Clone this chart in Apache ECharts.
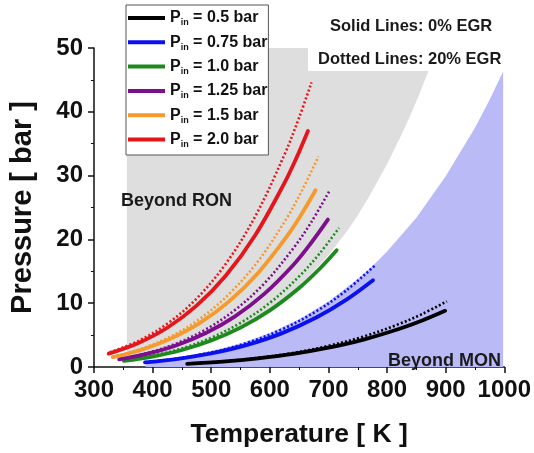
<!DOCTYPE html>
<html>
<head>
<meta charset="utf-8">
<script src="https://cdn.jsdelivr.net/npm/echarts@6/dist/echarts.min.js"></script>
<style>
  html, body { margin: 0; padding: 0; background: #fff; }
  #chart { width: 534px; height: 453px; }
</style>
</head>
<body>
<div id="chart"></div>
<script>
// legend labels (inlet pressure, bar) and colours
const pinLabels = ['0.5', '0.75', '1.0', '1.25', '1.5', '2.0'];
const lineColors = ['#000000', '#0a10ee', '#1e8a1e', '#7d0f8c', '#f59a2c', '#e4161c'];

// solid lines: 0% EGR  (T in K, P in bar)
const tSolid05 = [459, 520, 580, 640, 700, 760, 820, 860, 899];
const pSolid05 = [0.5, 0.85, 1.36, 2.06, 3.03, 4.30, 5.95, 7.28, 8.8];
const tSolid075 = [387, 440, 500, 560, 620, 680, 730, 776];
const pSolid075 = [0.72, 1.24, 2.12, 3.43, 5.27, 7.79, 10.51, 13.6];
const tSolid10 = [351, 400, 450, 500, 550, 600, 650, 685, 714];
const pSolid10 = [0.95, 1.64, 2.67, 4.15, 6.17, 8.87, 12.38, 15.4, 18.3];
const tSolid125 = [343, 390, 440, 490, 540, 590, 640, 670, 699];
const pSolid125 = [1.2, 2.05, 3.38, 5.28, 7.90, 11.42, 16.0, 19.4, 23.1];
const tSolid15 = [332, 380, 430, 480, 530, 580, 630, 655, 678];
const pSolid15 = [1.55, 2.67, 4.41, 6.87, 10.25, 14.75, 20.6, 24.1, 27.7];
const tSolid20 = [325, 375, 425, 475, 525, 575, 625, 645, 665];
const pSolid20 = [2.1, 3.73, 6.15, 9.61, 14.35, 20.66, 28.85, 32.7, 37.0];

// dotted lines: 20% EGR
const tDot05 = [459, 520, 580, 640, 700, 760, 820, 860, 902];
const pDot05 = [0.5, 0.87, 1.43, 2.21, 3.31, 4.78, 6.72, 8.31, 10.3];
const tDot075 = [387, 440, 500, 560, 620, 680, 730, 779];
const pDot075 = [0.75, 1.31, 2.29, 3.76, 5.87, 8.78, 11.97, 15.9];
const tDot10 = [351, 400, 450, 500, 550, 600, 650, 685, 718];
const pDot10 = [1.0, 1.76, 2.92, 4.59, 6.92, 10.06, 14.2, 17.8, 21.8];
const tDot125 = [343, 390, 440, 490, 540, 590, 640, 670, 701];
const pDot125 = [1.25, 2.18, 3.67, 5.85, 8.90, 13.05, 18.6, 22.6, 27.5];
const tDot15 = [332, 380, 430, 480, 530, 580, 630, 655, 683];
const pDot15 = [1.6, 2.82, 4.74, 7.51, 11.39, 16.6, 23.5, 27.7, 33.0];
const tDot20 = [327, 375, 425, 475, 525, 575, 625, 650, 671];
const pDot20 = [2.3, 4.05, 6.78, 10.72, 16.2, 23.6, 33.3, 39.1, 44.6];

// shaded regions (outline vertices)
const tRon = [356, 356, 885, 871, 856, 840, 823, 800, 770, 750, 734, 700, 650, 600, 550, 500, 450, 400, 370];
const pRon = [0.84, 50, 50, 46.5, 43.0, 39.5, 36.1, 31.8, 26.8, 23.8, 21.6, 17.5, 12.5, 8.75, 5.93, 3.87, 2.41, 1.43, 1.0];
const tMon = [388, 388, 420, 450, 500, 550, 600, 650, 700, 750, 777, 800, 850, 900, 950, 975, 998, 998];
const pMon = [0, 0.84, 1.17, 1.57, 2.46, 3.69, 5.34, 7.50, 10.27, 13.8, 16.0, 18.1, 23.4, 29.9, 37.5, 41.9, 46.3, 0];

const FONT = 'Liberation Sans, Arial, sans-serif';

const solidT = [tSolid05, tSolid075, tSolid10, tSolid125, tSolid15, tSolid20];
const solidP = [pSolid05, pSolid075, pSolid10, pSolid125, pSolid15, pSolid20];
const dotT = [tDot05, tDot075, tDot10, tDot125, tDot15, tDot20];
const dotP = [pDot05, pDot075, pDot10, pDot125, pDot15, pDot20];

function zip(ts, ps) {
  return ts.map((t, i) => [t, ps[i]]);
}

function region(name, ts, ps, fill) {
  return {
    type: 'custom',
    name: name,
    silent: true,
    z: 1,
    data: [[ts[0], ps[0]]],
    renderItem: function (params, api) {
      const pts = ts.map((t, i) => api.coord([t, ps[i]]));
      return {
        type: 'polygon',
        shape: { points: pts },
        style: { fill: fill, stroke: null }
      };
    }
  };
}

const series = [
  region('ron', tRon, pRon, '#dedede'),
  region('mon', tMon, pMon, '#babaf6')
];

// dotted first so the solid lines sit on top
for (let i = 0; i < 6; i++) {
  series.push({
    type: 'line',
    name: 'dot' + i,
    data: zip(dotT[i], dotP[i]),
    smooth: 0.35,
    showSymbol: false,
    silent: true,
    z: 3,
    color: lineColors[i],
    lineStyle: { color: lineColors[i], width: 2.6, type: [2, 2.2], cap: 'butt' }
  });
}
for (let i = 0; i < 6; i++) {
  series.push({
    type: 'line',
    name: pinLabels[i],
    data: zip(solidT[i], solidP[i]),
    smooth: 0.35,
    showSymbol: false,
    silent: true,
    z: 4,
    color: lineColors[i],
    lineStyle: { color: lineColors[i], width: 3.8, cap: 'round' }
  });
}

const chart = echarts.init(document.getElementById('chart'), null, { renderer: 'canvas' });

chart.setOption({
  animation: false,
  backgroundColor: '#fff',
  grid: { left: 91, right: 29, top: 48, bottom: 80, containLabel: false },
  legend: {
    data: pinLabels,
    orient: 'vertical',
    left: 126,
    top: 5,
    padding: [5, 1, 6, 2],
    itemGap: 6.8,
    itemWidth: 37,
    itemHeight: 4,
    icon: 'rect',
    backgroundColor: '#fff',
    borderColor: '#555',
    borderWidth: 1,
    borderRadius: 0,
    selectedMode: false,
    formatter: function (name) {
      return '{p|P}{s|in}{t| = ' + name + ' bar}';
    },
    textStyle: {
      fontFamily: FONT,
      fontWeight: 'bold',
      color: '#111',
      fontSize: 16,
      rich: {
        p: { fontFamily: FONT, fontWeight: 'bold', fontSize: 16, color: '#111', lineHeight: 19 },
        s: { fontFamily: FONT, fontWeight: 'bold', fontSize: 9, color: '#111', lineHeight: 9, verticalAlign: 'bottom' },
        t: { fontFamily: FONT, fontWeight: 'bold', fontSize: 16, color: '#111', lineHeight: 19 }
      }
    }
  },
  xAxis: {
    type: 'value',
    min: 300,
    max: 1000,
    interval: 100,
    name: 'Temperature [ K ]',
    nameLocation: 'middle',
    nameGap: 54,
    nameTextStyle: { fontFamily: FONT, fontWeight: 'bold', fontSize: 26.5, color: '#111' },
    axisLine: { lineStyle: { color: '#111', width: 1.5 } },
    axisTick: { inside: false, length: 6, lineStyle: { color: '#111', width: 1.5 } },
    minorTick: { show: true, splitNumber: 2, length: 3, lineStyle: { color: '#111', width: 1 } },
    splitLine: { show: false },
    axisLabel: {
      fontFamily: FONT, fontWeight: 'bold', fontSize: 24, color: '#111', margin: 11,
      formatter: function (v) { return String(v); }
    }
  },
  yAxis: {
    type: 'value',
    min: 0,
    max: 50,
    interval: 10,
    name: 'Pressure [ bar ]',
    nameLocation: 'middle',
    nameGap: 57,
    nameTextStyle: { fontFamily: FONT, fontWeight: 'bold', fontSize: 29, color: '#111' },
    axisLine: { lineStyle: { color: '#111', width: 1.5 } },
    axisTick: { inside: false, length: 6, lineStyle: { color: '#111', width: 1.5 } },
    minorTick: { show: true, splitNumber: 2, length: 3, lineStyle: { color: '#111', width: 1 } },
    splitLine: { show: false },
    axisLabel: { fontFamily: FONT, fontWeight: 'bold', fontSize: 24, color: '#111', margin: 11 }
  },
  graphic: [
    {
      type: 'text', left: 121, top: 192, z: 10,
      style: { text: 'Beyond RON', fontFamily: FONT, fontWeight: 'bold', fontSize: 18, fill: '#1a1a1a' }
    },
    {
      type: 'text', left: 388, top: 352, z: 10,
      style: { text: 'Beyond MON', fontFamily: FONT, fontWeight: 'bold', fontSize: 18, fill: '#1a1a1a' }
    },
    {
      type: 'text', left: 330, top: 18, z: 10,
      style: { text: 'Solid Lines: 0% EGR', fontFamily: FONT, fontWeight: 'bold', fontSize: 16.5, fill: '#1a1a1a' }
    },
    {
      type: 'text', left: 308, top: 48, z: 10,
      style: {
        text: 'Dotted Lines: 20% EGR', fontFamily: FONT, fontWeight: 'bold', fontSize: 16.5, fill: '#1a1a1a',
        backgroundColor: '#fff', padding: [3, 14, 3, 10]
      }
    }
  ],
  series: series
});
</script>
</body>
</html>
